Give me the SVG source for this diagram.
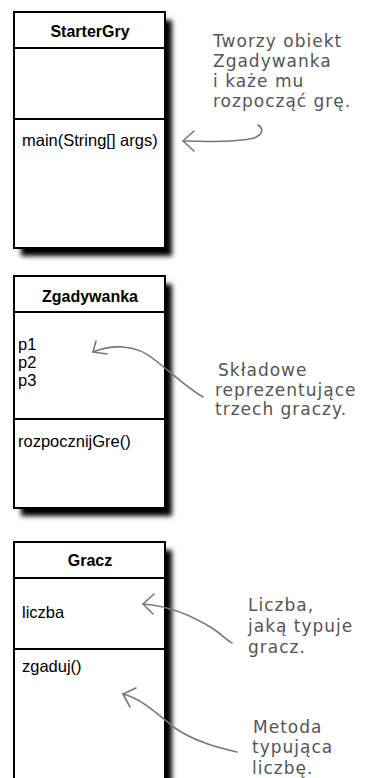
<svg xmlns="http://www.w3.org/2000/svg" width="366" height="778" viewBox="0 0 366 778">
<defs>
<filter id="sh" x="-20%" y="-20%" width="140%" height="140%">
<feGaussianBlur stdDeviation="2.6"/>
</filter>
<style>
.box{fill:#fff;stroke:#000;stroke-width:2}
.div{stroke:#000;stroke-width:1.8}
.shadow{fill:#000;filter:url(#sh)}
.title{font-family:"Liberation Sans",Arial,sans-serif;font-size:16px;font-weight:bold;fill:#000;text-anchor:middle}
.item{font-family:"Liberation Sans",Arial,sans-serif;font-size:16.5px;fill:#000}
.note{font-family:"DejaVu Sans","Noto Sans",sans-serif;font-size:17px;fill:#555;letter-spacing:1px}
.arrow{fill:none;stroke:#777;stroke-width:1.6;stroke-linecap:round;stroke-linejoin:round}
</style>
</defs>
<rect width="366" height="778" fill="#fff"/>

<g id="StarterGry">
<rect class="shadow" x="21" y="20" width="151" height="236"/>
<rect class="box" x="14" y="12" width="151" height="236"/>
<line class="div" x1="14" y1="48" x2="165" y2="48"/>
<line class="div" x1="14" y1="119" x2="165" y2="119"/>
<text class="title" x="90" y="37">StarterGry</text>
<text class="item" x="22" y="146">main(String[] args)</text>
</g>

<g id="Zgadywanka">
<rect class="shadow" x="21" y="284" width="151" height="232"/>
<rect class="box" x="14" y="276" width="151" height="232"/>
<line class="div" x1="14" y1="312" x2="165" y2="312"/>
<line class="div" x1="14" y1="419" x2="165" y2="419"/>
<text class="title" x="90" y="302">Zgadywanka</text>
<text class="item" x="18" y="350">p1</text>
<text class="item" x="18" y="368">p2</text>
<text class="item" x="18" y="386">p3</text>
<text class="item" x="18" y="447">rozpocznijGre()</text>
</g>

<g id="Gracz">
<rect class="shadow" x="21" y="550" width="151" height="260"/>
<rect class="box" x="14" y="542" width="151" height="260"/>
<line class="div" x1="14" y1="578" x2="165" y2="578"/>
<line class="div" x1="14" y1="649" x2="165" y2="649"/>
<text class="title" x="90" y="566">Gracz</text>
<text class="item" x="22" y="618">liczba</text>
<text class="item" x="22" y="672">zgaduj()</text>
</g>

<g id="notes">
<text class="note" x="213" y="47">Tworzy obiekt</text>
<text class="note" x="213" y="67">Zgadywanka</text>
<text class="note" x="213" y="87">i każe mu</text>
<text class="note" x="213" y="107">rozpocząć grę.</text>
<text class="note" x="218" y="376">Składowe</text>
<text class="note" x="215" y="396">reprezentujące</text>
<text class="note" x="215" y="415">trzech graczy.</text>
<text class="note" x="248" y="611">Liczba,</text>
<text class="note" x="248" y="632">jaką typuje</text>
<text class="note" x="248" y="653">gracz.</text>
<text class="note" x="253" y="733">Metoda</text>
<text class="note" x="252" y="753">typująca</text>
<text class="note" x="252" y="774">liczbę.</text>
</g>

<g id="connectors">
<path class="arrow" d="M183,141 C215,142 243,141 254,138 C264,134 263,128 258,125"/>
<path class="arrow" d="M194,131 L183,141 L194,151"/>
<path class="arrow" d="M93,352 C110,345 135,343 155,360 C175,376 190,390 203,397"/>
<path class="arrow" d="M96,341 L93,352 L107,354"/>
<path class="arrow" d="M143,604 C170,606 195,617 215,630 C223,636 228,641 232,643"/>
<path class="arrow" d="M154,594 L143,604 L153,614"/>
<path class="arrow" d="M123,694 C140,698 155,712 175,728 C195,742 220,748 237,752"/>
<path class="arrow" d="M136,688 L123,694 L130,707"/>
</g>
</svg>
